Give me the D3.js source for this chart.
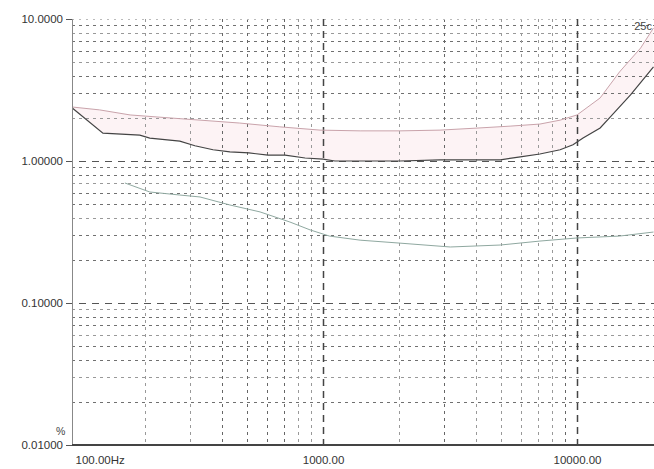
<!DOCTYPE html>
<html>
<head>
<meta charset="utf-8">
<script src="https://cdn.jsdelivr.net/npm/d3@7"></script>
<style>
  body { margin: 0; background: #fff; }
  text { font-family: "Liberation Sans", Arial, sans-serif; }
</style>
</head>
<body>
<div id="chart"></div>
<script>
// Data (frequency Hz, level %)
const upperCurve = [
  [103, 2.40], [132, 2.29], [174, 2.11], [250, 2.01], [328, 1.94], [470, 1.85],
  [676, 1.74], [973, 1.65], [1400, 1.63], [2010, 1.63], [2890, 1.65], [4150, 1.71],
  [5450, 1.76], [7140, 1.82], [8580, 1.94], [10000, 2.11], [12330, 2.78],
  [14700, 4.24], [17800, 6.25], [20000, 8.65]
];
const darkCurve = [
  [103, 2.36], [136, 1.57], [190, 1.52], [208, 1.45], [273, 1.38], [313, 1.28],
  [369, 1.20], [430, 1.16], [511, 1.14], [607, 1.10], [709, 1.10], [850, 1.05],
  [1000, 1.03], [1114, 1.0], [1400, 1.0], [2010, 1.0], [2890, 1.02], [4150, 1.02],
  [4990, 1.02], [5980, 1.07], [7140, 1.12], [8580, 1.20], [9640, 1.30],
  [10560, 1.45], [12330, 1.71], [13500, 2.04], [16240, 2.92], [20000, 4.6]
];
const lowerCurve = [
  [166, 0.70], [208, 0.605], [273, 0.576], [328, 0.558], [430, 0.49], [565, 0.438],
  [740, 0.372], [890, 0.327], [1060, 0.296], [1400, 0.277], [2010, 0.264],
  [3170, 0.248], [4990, 0.256], [7140, 0.273], [10000, 0.287], [14700, 0.296],
  [20000, 0.316]
];

const yTicks = [10, 1, 0.1, 0.01];
const yTickLabels = ["10.0000", "1.00000", "0.10000", "0.01000"];
const xTicks = [100, 1000, 10000];
const xTickLabels = ["100.00Hz", "1000.00", "10000.00"];
const xMinor = [200, 300, 400, 500, 600, 700, 800, 900, 2000, 3000, 4000, 5000, 6000, 7000, 8000, 9000];
const yDecades = [0.01, 0.1, 1];
const yMinorMult = [2, 3, 4, 5, 6, 7, 8, 9];

const width = 654, height = 469;

const svg = d3.select("#chart")
  .append("svg")
  .attr("width", width)
  .attr("height", height);

// scales: 1 kHz at 323, 10 kHz at 577
const x = d3.scaleLog().domain([100, 20000]).range([69, 653.5]);
const y = d3.scaleLog().domain([0.01, 10]).range([445, 19]);
const left = 72;

// faint pink band between upper and dark curves
const line = d3.line()
  .x(d => x(d[0]))
  .y(d => y(d[1]));

svg.append("path")
  .datum(upperCurve.concat(darkCurve.slice().reverse()))
  .attr("d", d => line(d) + "Z")
  .attr("fill", "#fdf3f5")
  .attr("stroke", "none");

// horizontal minor grid
const yMinor = [];
yDecades.forEach(d => yMinorMult.forEach(m => yMinor.push(d * m)));

svg.append("g")
  .selectAll("line")
  .data(yMinor)
  .enter()
  .append("line")
    .attr("x1", left).attr("x2", width)
    .attr("y1", d => Math.round(y(d)) + 0.5)
    .attr("y2", d => Math.round(y(d)) + 0.5)
    .attr("stroke", (d, i) => i % 3 === 1 ? "#999" : "#707070")
    .attr("stroke-width", 1)
    .attr("stroke-dasharray", "3,4");

// vertical minor grid
svg.append("g")
  .selectAll("line")
  .data(xMinor)
  .enter()
  .append("line")
    .attr("x1", d => Math.round(x(d)) + 0.5)
    .attr("x2", d => Math.round(x(d)) + 0.5)
    .attr("y1", y(10)).attr("y2", y(0.01))
    .attr("stroke", d => (d >= 400 && d <= 700) || d === 3000 || d === 9000 ? "#666" : "#999")
    .attr("stroke-width", 1)
    .attr("stroke-dasharray", "3,4");

// decade grid lines
svg.append("g")
  .selectAll("line")
  .data([0.1, 1])
  .enter()
  .append("line")
    .attr("x1", left - 6).attr("x2", width)
    .attr("y1", d => Math.round(y(d)) + 0.5)
    .attr("y2", d => Math.round(y(d)) + 0.5)
    .attr("stroke", "#555")
    .attr("stroke-width", 1.2)
    .attr("stroke-dasharray", "7,6");

svg.append("line")
  .attr("x1", left).attr("x2", width)
  .attr("y1", y(10) + 0.5).attr("y2", y(10) + 0.5)
  .attr("stroke", "#bbb")
  .attr("stroke-dasharray", "2,5");

svg.append("g")
  .selectAll("line")
  .data([1000, 10000])
  .enter()
  .append("line")
    .attr("x1", d => Math.round(x(d)) + 0.5)
    .attr("x2", d => Math.round(x(d)) + 0.5)
    .attr("y1", y(10)).attr("y2", y(0.01))
    .attr("stroke", "#444")
    .attr("stroke-width", 1.5)
    .attr("stroke-dasharray", "7,5");

// curves
svg.append("path")
  .datum(upperCurve)
  .attr("d", line)
  .attr("fill", "none")
  .attr("stroke", "#c9a3ab")
  .attr("stroke-width", 1);

svg.append("path")
  .datum(lowerCurve)
  .attr("d", line)
  .attr("fill", "none")
  .attr("stroke", "#8fa8a0")
  .attr("stroke-width", 1);

svg.append("path")
  .datum(darkCurve)
  .attr("d", line)
  .attr("fill", "none")
  .attr("stroke", "#444")
  .attr("stroke-width", 1.2);

// axes
const yAxis = d3.axisLeft(y)
  .tickValues(yTicks)
  .tickFormat((d, i) => yTickLabels[i])
  .tickSize(6)
  .tickPadding(3);

const gy = svg.append("g")
  .attr("transform", `translate(${left},0)`)
  .call(yAxis);
gy.select(".domain").attr("stroke", "#888");
gy.selectAll(".tick line").attr("stroke", "#555");
gy.selectAll(".tick text")
  .attr("font-size", 11.5)
  .attr("fill", "#333");

const xAxis = d3.axisBottom(x)
  .tickValues(xTicks)
  .tickFormat((d, i) => xTickLabels[i])
  .tickSize(0)
  .tickPadding(11);

const gx = svg.append("g")
  .attr("transform", `translate(0,${y(0.01)})`)
  .call(xAxis);
gx.select(".domain").remove();
gx.selectAll(".tick text")
  .attr("font-size", 11.5)
  .attr("fill", "#333")
  .attr("text-anchor", (d, i) => i === 0 ? "start" : "middle")
  .attr("dx", (d, i) => i === 0 ? 6 : 0);

svg.append("line")
  .attr("x1", left).attr("x2", width)
  .attr("y1", y(0.01)).attr("y2", y(0.01))
  .attr("stroke", "#444")
  .attr("stroke-width", 2);

// unit and label text
svg.append("text")
  .attr("x", 56).attr("y", 435)
  .attr("font-size", 10.5)
  .attr("fill", "#444")
  .text("%");

svg.append("text")
  .attr("x", 652).attr("y", 30)
  .attr("text-anchor", "end")
  .attr("font-size", 11)
  .attr("fill", "#444")
  .text("25c");
</script>
</body>
</html>
